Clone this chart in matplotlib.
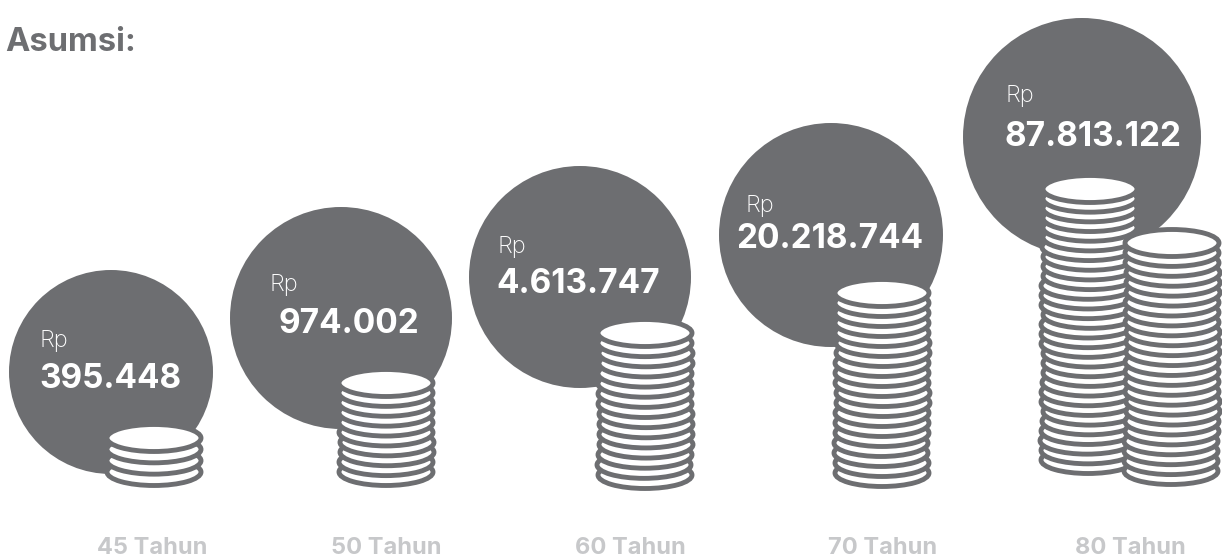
import matplotlib
matplotlib.use("Agg")
import matplotlib.pyplot as plt
from matplotlib.patches import Circle, Ellipse

plt.rcParams['font.family'] = ['Inter', 'DejaVu Sans']

GRIS = "#6d6e71"
GRIS_CLARO = "#c7c8ca"

# Datos
edades = ["45 Tahun", "50 Tahun", "60 Tahun", "70 Tahun", "80 Tahun"]
montos = ["395.448", "974.002", "4.613.747", "20.218.744", "87.813.122"]

circulo_x = [111, 341, 580, 831, 1082]
circulo_y = [372, 318, 277, 235, 137]
circulo_r = [102, 111, 111, 112, 119]

rp_x = [40, 269, 497, 746, 1005]
rp_y = [347, 291, 253, 212, 102]
monto_x = [39, 278, 496, 736, 1004]
monto_y = [388, 333, 293, 248, 146]
edad_x = [152, 386, 630, 883, 1130]

# pilas de monedas: centro, y de arriba, y de abajo
pila_x = [154, 386, 645, 882, 1090, 1172]
pila_arriba = [438, 383, 333, 293, 189, 243]
pila_abajo = [472, 472, 475, 473, 460, 471]

# desvio horizontal de cada moneda, de abajo hacia arriba
pila_desvio = [
    [0, 0, 0, 0],
    [0, 0, 1, 1, 0, 0, 0, 0, 0, 0],
    [0, -1, 0, 1, 1, 1, 1, 0, 0, 0, 0, 1, 1, 0, 0],
    [0, 0, -1, -1, 0, 0, 0, 1, 1, 0, 0, 0, 1, 1, 0, 0, 0, 0, 0],
    [-2, -2, -3, -2, -1, 0, -2, -2, -1, 0, 0, 0, -2, -2, -2, 0, -2, -2, -2, 0, 0, 0,
     -1, 0, 0, 0, 0, 0, 0],
    [-1, -1, -1, -1, 0, 0, 1, 1, 0, 0, 0, 0, 1, 1, 1, 0, 0, 0, 1, 1, 1, 0, 0, 0],
]

fig = plt.figure(figsize=(12.22, 5.59), dpi=100)
ax = fig.add_axes([0, 0, 1, 1])
ax.set_xlim(0, 1222)
ax.set_ylim(559, 0)
ax.axis("off")

for x, y, r in zip(circulo_x, circulo_y, circulo_r):
    ax.add_patch(Circle((x, y), r, color=GRIS, lw=0, zorder=1))

for i, desvios in enumerate(pila_desvio):
    n = len(desvios)
    paso = (pila_abajo[i] - pila_arriba[i]) / (n - 1)
    for j, d in enumerate(desvios):
        y = pila_abajo[i] - j * paso
        ax.add_patch(Ellipse((pila_x[i] + d, y), 94, 27, facecolor="white",
                             edgecolor=GRIS, lw=3.5, zorder=2 + i + j * 0.01))

for i in range(5):
    ax.text(rp_x[i], rp_y[i], "Rp", color="white", fontsize=17, fontweight="light",
            ha="left", va="baseline", zorder=20)
    ax.text(monto_x[i], monto_y[i], montos[i], color="white", fontsize=24, fontweight="bold",
            ha="left", va="baseline", zorder=20)
    ax.text(edad_x[i], 554, edades[i], color=GRIS_CLARO, fontsize=17, fontweight="bold",
            ha="center", va="baseline")

ax.text(5, 51, "Asumsi:", color=GRIS, fontsize=23.5, fontweight="bold", ha="left", va="baseline")

fig.savefig("out.png", dpi=100)
